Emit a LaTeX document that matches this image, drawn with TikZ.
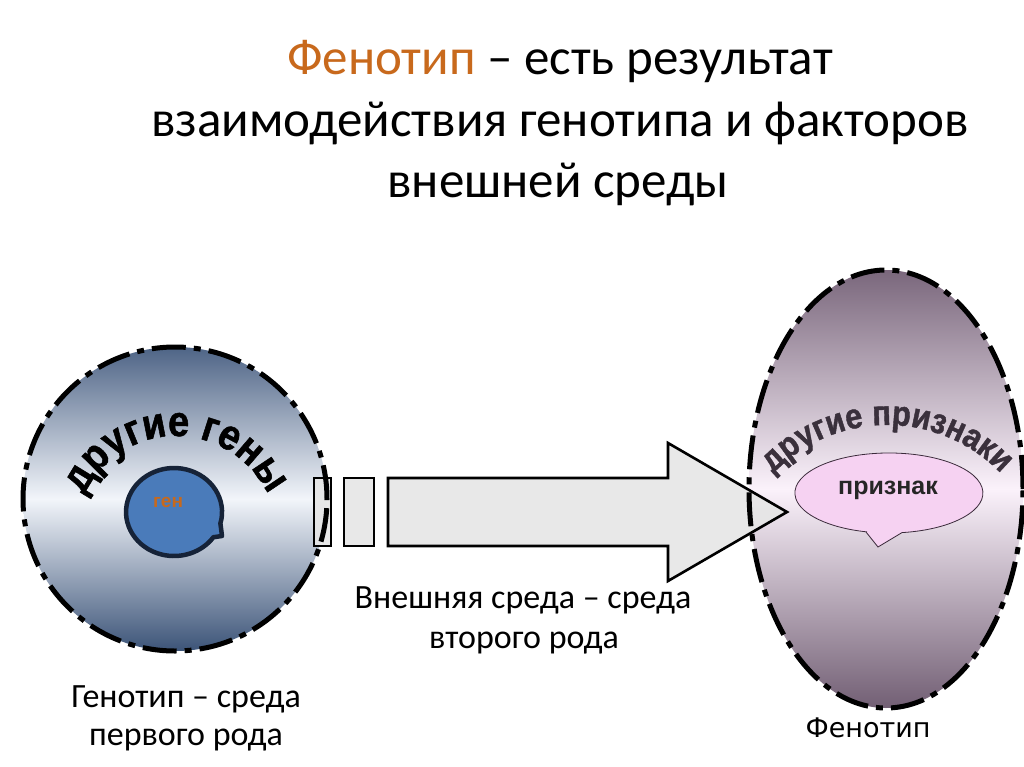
\documentclass[tikz,border=0pt]{standalone}
\usepackage{fontspec}
\setmainfont{Carlito}
\newfontfamily\arialf{Liberation Sans}
\newfontfamily\arialheavy{Liberation Sans Bold}[FakeBold=1.2, FakeStretch=0.88]
\newfontfamily\dejavuf{DejaVu Sans}
\usetikzlibrary{decorations.text}
\definecolor{titleorange}{HTML}{C8691C}
\definecolor{genotop}{HTML}{4E6486}
\definecolor{genomid}{HTML}{F2F5FA}
\definecolor{genobot}{HTML}{3C5478}
\definecolor{phenotop}{HTML}{7A677C}
\definecolor{phenomid}{HTML}{FBF2FB}
\definecolor{phenobot}{HTML}{725F74}
\definecolor{genefill}{HTML}{4A7BBA}
\definecolor{geneline}{HTML}{162338}
\definecolor{genetext}{HTML}{C7691D}
\definecolor{bubblefill}{HTML}{F6D2F2}
\definecolor{bubbleline}{HTML}{3A2A3A}
\definecolor{arcgray}{HTML}{3A303C}
\definecolor{arrowfill}{HTML}{E6E6E6}
\tikzset{
  titletext/.style={font=\fontsize{51}{61}\selectfont, inner sep=0pt, anchor=base},
  labeltext/.style={font=\fontsize{34}{40}\selectfont, inner sep=0pt, anchor=base},
  dashborder/.style={draw=black, line width=5pt, dash pattern=on 34pt off 8pt on 7pt off 8pt},
  blockpart/.style={draw=black, line width=2.6pt, fill=arrowfill, fill opacity=0.9, line join=miter},
}
\begin{document}
\begin{tikzpicture}[x=1pt,y=1pt]
\useasboundingbox[fill=white] (0,0) rectangle (1024,-767);

% title
\node[titletext] (t1) at (560,-75) {\textcolor{titleorange}{Фенотип} – есть результат};
\node[titletext] (t2) at (560,-137) {взаимодействия генотипа и факторов};
\node[titletext] (t3) at (558,-198) {внешней среды};

% genotype circle fill
\coordinate (gc) at (175,-499);
\path[top color=genotop, bottom color=genobot, middle color=genomid] (gc) circle[radius=152];

% phenotype ellipse fill
\coordinate (pc) at (886,-489);
\path[top color=phenotop, bottom color=phenobot, middle color=phenomid] (pc) ellipse[x radius=137, y radius=219];

% block arrow
\path[blockpart] (314,-478) rectangle (331,-546);
\path[blockpart] (344,-478) rectangle (374,-546);
\path[blockpart] (388,-478) -- (668,-478) -- (668,-443) -- (787,-512) -- (668,-581) -- (668,-546) -- (388,-546) -- cycle;

% borders on top
\draw[dashborder] (gc) circle[radius=152];
\draw[dashborder] (pc) ellipse[x radius=137, y radius=219];

% gene blob
\draw[line width=4.5pt, draw=geneline, fill=genefill, line join=round]
  (220.4,-523.4) arc[start angle=-15, end angle=325, x radius=48, y radius=44]
  -- (222,-536) -- cycle;
\node[font=\arialf\bfseries\fontsize{19}{19}\selectfont, text=genetext, inner sep=0pt] (gene) at (168,-502) {ген};

% arc text: другие гены
\path[decorate, decoration={text along path, text align=center, text color=black,
  text={|\arialheavy\fontsize{43}{43}\selectfont|другие гены}}]
  (176,-537) ++(170:101) arc[start angle=170, end angle=10, radius=101];

% bubble признак
\draw[line width=0.8pt, draw=bubbleline, fill=bubblefill]
  (866,-532) -- (878,-547) -- (902,-532.6)
  arc[start angle=278, end angle=616, x radius=94, y radius=40] -- cycle;
\node[font=\arialf\bfseries\fontsize{25}{25}\selectfont, text=black!85, inner sep=0pt] (trait) at (888,-490) {признак};

% arc text: другие признаки
\path[decorate, decoration={text along path, text align=center, text color=arcgray,
  text={|\arialheavy\fontsize{35}{35}\selectfont|другие признаки}}]
  (887,-583) ++(150:158) arc[start angle=150, end angle=30, radius=158];

% labels
\node[labeltext] (env1) at (523,-608) {Внешняя среда – среда};
\node[labeltext] (env2) at (524,-648) {второго рода};
\node[labeltext] (gen1) at (186,-707) {Генотип – среда};
\node[labeltext] (gen2) at (186,-745) {первого рода};
\node[font=\dejavuf\fontsize{27}{30}\selectfont, inner sep=0pt, anchor=base] (phen) at (868,-737) {Фенотип};
\end{tikzpicture}
\end{document}
